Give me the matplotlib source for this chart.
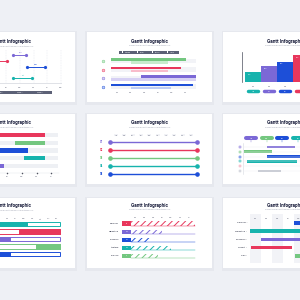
"""
Gantt infographic template preview: 3x3 grid of slide thumbnails.
"""
import matplotlib
matplotlib.use("Agg")
import matplotlib.pyplot as plt
from matplotlib.patches import Rectangle

plt.rcParams["font.family"] = ["Roboto", "DejaVu Sans"]
plt.rcParams["hatch.linewidth"] = 0.7

# ── Palette / layout ─────────────────────────────────────────────────────────
W, H     = 300, 300
BG       = "#eef0f5"
NAVY     = "#1f2340"
GREY_TXT = "#a2a6b5"
SLATE    = "#5c6176"
RED      = "#e8375c"
GREEN    = "#74c780"
BLUE     = "#1d4fd8"
PURPLE   = "#7b68d6"
TEAL     = "#17b3ad"
PINK     = "#f39ab0"
GREY     = "#c3c6cf"

CARD_X = [-50, 87, 223]
CARD_Y = [32, 114, 198]
CARD_W, CARD_H = 125, 70
TITLE    = "Gantt Infographic"
SUBTITLE = "Present your project timeline and milestones here"

# ── Data ─────────────────────────────────────────────────────────────────────
# card 1: range chart
c1_months = ["Jan", "Feb", "Mar", "Apr", "May", "Jun", "Jul", "Aug"]
c1_labels = ["Tune", "Plan", "Index", "Draft", "Test"]
c1_colors = [PURPLE, RED, BLUE, "#f5b942", TEAL]
c1_start  = [3.5, 1.0, 4.53, 0.4, 3.5]
c1_end    = [4.45, 3.07, 5.84, 2.2, 4.9]
c1_legend = ["Phase 1", "Phase 2", "Phase 3", "Phase 4"]

# card 2: stacked track rows
c2_months     = ["Jan", "Feb", "Mar", "Apr", "May", "Jun"]
c2_colors     = [GREEN, RED, PURPLE, BLUE]
c2_pale       = ["#c8ecce", "#f8bccb", "#d6d0f4", "#bfcdf5"]
c2_main_start = [-0.44, -0.44, 1.75, -0.44]
c2_main_end   = [5.04, 4.67, 5.77, 5.55]
c2_sub_start  = [1.02, 1.02, -0.44, 1.02]
c2_sub_end    = [3.72, 3.72, 5.77, 3.94]
c2_legend     = ["Planning", "Design", "Develop", "Launch"]

# card 3: step columns
c3_months = ["Jan", "Feb", "Mar", "Apr", "May"]
c3_values = [30, 48, 60, 80, 92]
c3_colors = [TEAL, PURPLE, BLUE, RED, GREEN]

# card 4: tracks
c4_months = ["Jan", "Feb", "Mar", "Apr", "May", "Jun", "Jul"]
c4_colors = [RED, GREEN, BLUE, TEAL, PURPLE]
c4_start  = [0.2, 3.54, 0.9, 4.15, 0.5]
c4_end    = [5.58, 5.58, 4.42, 5.58, 2.79]
c4_track  = [6.46, 6.46, 6.46, 6.46, 6.46]

# card 5: numbered lines
c5_months = ["Jan", "Feb", "Mar", "Apr", "May", "Jun", "Jul", "Aug", "Sep", "Oct"]
c5_ids    = ["01", "02", "03", "04", "05"]
c5_colors = [PURPLE, RED, GREEN, TEAL, BLUE]
c5_start  = [-0.72, -0.72, -0.72, -0.72, -0.72]
c5_end    = [9.72, 9.72, 9.72, 9.72, 9.72]

# card 6: pill header gantt
c6_months      = ["Jan", "Feb", "Mar", "Apr", "May"]
c6_month_color = [PURPLE, GREEN, BLUE, TEAL, RED]
c6_colors      = [PURPLE, GREEN, BLUE, TEAL, PINK, GREY]
c6_pale        = ["#ddd8f6", "#d3efd7", "#c9d5f7", "#c6ecea", "#fbdbe3", "#e4e6eb"]
c6_start       = [1.02, -0.45, 1.02, -0.25, 3.40, 0.45]
c6_end         = [2.80, 1.34, 3.76, 2.93, 4.60, 1.91]

# card 7: outlined progress bars
c7_months     = ["Jan", "Feb", "Mar", "Apr", "May", "Jun",
                 "Jul", "Aug", "Sep", "Oct", "Nov", "Dec"]
c7_colors     = [TEAL, RED, PURPLE, GREEN, BLUE]
c7_bar_start  = [-0.36, -0.36, -0.36, -0.36, -0.36]
c7_bar_end    = [11.36, 11.36, 11.36, 11.36, 11.36]
c7_fill_start = [-0.36, 6.41, -0.36, 8.46, -0.36]
c7_fill_end   = [7.38, 11.36, 5.32, 11.36, 5.32]

# card 8: hatched bars
c8_months = ["Jan", "Feb", "Mar", "Apr", "May", "Jun", "Jul"]
c8_tasks  = ["Planning", "Marketing", "Research", "Strategy", "Analysis"]
c8_ids    = ["01", "02", "03", "04", "05"]
c8_colors = [RED, PURPLE, BLUE, TEAL, GREEN]
c8_start  = [-0.44, -0.44, -0.44, -0.44, -0.44]
c8_end    = [6.67, 3.0, 1.67, 4.0, 2.56]

# card 9: shaded columns
c9_months = ["Jan", "Feb", "Mar", "Apr", "May", "Jun", "Jul", "Aug"]
c9_tasks  = ["Planning", "Marketing", "Research", "Project", "Plan"]
c9_colors = [BLUE, TEAL, PURPLE, RED, GREEN]
c9_start  = [3.55, -0.45, 0.55, -0.36, 3.64]
c9_end    = [6.0, 7.0, 5.2, 3.36, 6.0]
# ─────────────────────────────────────────────────────────────────────────────

fig = plt.figure(figsize=(3, 3), dpi=100)
fig.patch.set_facecolor(BG)


def px_axes(x0, y0, x1, y1, z=2):
    """Axes placed by pixel box (top-left origin)."""
    ax = fig.add_axes([x0 / W, 1 - y1 / H, (x1 - x0) / W, (y1 - y0) / H])
    ax.set_zorder(z)
    ax.set_xticks([]); ax.set_yticks([])
    for s in ax.spines.values():
        s.set_visible(False)
    ax.patch.set_alpha(0)
    return ax


def make_card(col, row, title_y):
    x0, y0 = CARD_X[col], CARD_Y[row]
    sh = px_axes(x0 - 1.5, y0 - 1, x0 + CARD_W + 1.5, y0 + CARD_H + 2.5, z=0)
    sh.patch.set_alpha(1); sh.set_facecolor("#e6e8ee")
    ax = px_axes(x0, y0, x0 + CARD_W, y0 + CARD_H, z=1)
    ax.patch.set_alpha(1); ax.set_facecolor("white")
    ax.set_xlim(0, CARD_W); ax.set_ylim(CARD_H, 0)
    ax.text(CARD_W / 2, title_y, TITLE, ha="center", va="center",
            fontsize=3.4, fontweight="bold", color=NAVY)
    ax.text(CARD_W / 2, title_y + 4.2, SUBTITLE, ha="center", va="center",
            fontsize=1.35, color=GREY_TXT)
    return ax


def small(ax, x, y, s, **kw):
    kw.setdefault("fontsize", 1.4)
    kw.setdefault("color", "#6d7183")
    kw.setdefault("ha", "center")
    kw.setdefault("va", "center")
    ax.text(x, y, s, clip_on=False, **kw)


def card1():
    card = make_card(0, 0, 9.8)
    ax = px_axes(-37, 50, 62, 84)
    ax.set_xlim(-0.146, 7.08); ax.set_ylim(5.04, -0.87)
    for m, lab in enumerate(c1_months):
        ax.plot([m, m], [-0.8, 4.9], color="#d9dce4", lw=0.3, ls=(0, (2, 2)))
        small(ax, m, 5.57, lab)
    ax.plot([-0.2, 7.1], [4.9, 4.9], color="#c8cbd5", lw=0.4)
    for i, (s, e, c, lab) in enumerate(zip(c1_start, c1_end, c1_colors, c1_labels)):
        ax.plot([s, e], [i, i], color=c, lw=0.7, marker="o", ms=1.3)
        small(ax, (s + e) / 2, i - 0.42, lab, color=c, fontsize=1.2)
    card.add_patch(Rectangle((20, 58.6), 82, 3.0, color=SLATE, lw=0))
    for k, lab in enumerate(c1_legend):
        card.text(30 + 20 * k, 60.1, lab, fontsize=1.1, color="white",
                  ha="center", va="center")


def card2():
    card = make_card(1, 0, 9.5)
    card.add_patch(Rectangle((32, 18.6), 60, 3.0, color=SLATE, lw=0))
    for k, lab in enumerate(c2_legend):
        card.add_patch(Rectangle((35 + 15 * k, 19.4), 1.4, 1.4, color="white", lw=0))
        card.text(37.5 + 15 * k, 20.1, lab, fontsize=1.1, color="white", va="center")
    ax = px_axes(98, 54, 200, 95)
    ax.set_xlim(-1.387, 6.058); ax.set_ylim(4.18, -0.647)
    for i, c in enumerate(c2_colors):
        ax.barh(i + 0.18, 5.77 + 0.44, left=-0.44, height=0.55, color="#f2f3f7", lw=0)
        ax.barh(i, c2_main_end[i] - c2_main_start[i], left=c2_main_start[i],
                height=0.25, color=c, lw=0)
        ax.barh(i + 0.36, c2_sub_end[i] - c2_sub_start[i], left=c2_sub_start[i],
                height=0.25, color=c2_pale[i], lw=0)
        ax.scatter([-1.02], [i + 0.18], s=4, facecolor=c2_pale[i], edgecolor=c,
                   lw=0.3, clip_on=False)
    for m, lab in enumerate(c2_months):
        small(ax, m, 3.85, lab)


def card3():
    make_card(2, 0, 9.5)
    ax = px_axes(242, 48, 345, 82)
    ax.set_xlim(-0.6875, 5.75); ax.set_ylim(0, 100)
    ax.bar(range(len(c3_values)), c3_values, width=1.0, color=c3_colors, lw=0)
    ax.plot([-0.6875, -0.6875], [0, 88], color="#4b4f5e", lw=0.5, clip_on=False)
    ax.plot([-0.6875, 5.75], [0, 0], color="#b9bcc6", lw=0.4)
    for i, (v, c, lab) in enumerate(zip(c3_values, c3_colors, c3_months)):
        small(ax, i - 0.3, v - 7, f"{v}%", color="white", ha="left")
        small(ax, i, -11.8, lab)
        ax.plot([i - 0.3, i + 0.3], [-26.5, -26.5], color=c, lw=2.5,
                solid_capstyle="round", clip_on=False)
        small(ax, i, -26.5, lab, color="white", fontsize=1.1)


def card4():
    make_card(0, 1, 9.0)
    ax = px_axes(-37, 131, 62, 180)
    ax.set_xlim(0, 6.73); ax.set_ylim(5.81, -0.52)
    for i, c in enumerate(c4_colors):
        ax.barh(i, c4_track[i], left=0, height=0.55, color="#eef0f4", lw=0)
        ax.barh(i, c4_end[i] - c4_start[i], left=c4_start[i], height=0.55,
                color=c, lw=0)
    ax.plot([0, 6.5], [4.9, 4.9], color="#e1e3ea", lw=0.3)
    for m, lab in enumerate(c4_months):
        ax.scatter([m], [4.9], s=1.2, color="#2b2e3c", lw=0)
        small(ax, m, 5.42, lab)


def card5():
    make_card(1, 1, 9.0)
    ax = px_axes(96, 131, 212, 180)
    ax.set_xlim(-2.4, 11.52); ax.set_ylim(4.75, -1.375)
    for m, lab in enumerate(c5_months):
        small(ax, m, -0.875, lab, fontsize=1.2,
              bbox=dict(facecolor="#f1f2f6", edgecolor="none", pad=0.4))
    for i, (s, e, c, lab) in enumerate(zip(c5_start, c5_end, c5_colors, c5_ids)):
        ax.plot([s, e], [i, i], color=c, lw=1.0, marker="o", ms=2.3)
        small(ax, -1.8, i, lab, color=c, fontsize=2.1, fontweight="bold")


def card6():
    make_card(2, 1, 9.0)
    ax = px_axes(236, 133, 345, 176)
    ax.set_xlim(-0.955, 5.99); ax.set_ylim(6.04, -2.92)
    for m, (lab, c) in enumerate(zip(c6_months, c6_month_color)):
        ax.plot([m - 0.32, m + 0.32], [-1.875, -1.875], color=c, lw=2.9,
                solid_capstyle="round")
        small(ax, m, -1.875, lab, color="white", fontsize=1.2)
        ax.plot([m, m], [-1.4, -1.1], color=c, lw=0.3)
    ax.plot([-0.48, -0.48], [-0.9, 5.6], color="#d5d8e0", lw=0.4)
    for i, c in enumerate(c6_colors):
        ax.plot([-0.48, 6], [i, i], color="#eceef3", lw=0.3)
        ax.barh(i, c6_end[i] - c6_start[i], left=c6_start[i], height=0.55,
                color=c, lw=0)
        ax.scatter([-0.70], [i], marker="s", s=4.5, facecolor=c6_pale[i],
                   edgecolor=c, lw=0.3, clip_on=False)


def card7():
    make_card(0, 2, 8.0)
    ax = px_axes(-40, 215, 63, 260)
    ax.set_xlim(-0.725, 11.73); ax.set_ylim(4.8, -1.2)
    for m, lab in enumerate(c7_months):
        small(ax, m, -0.67, lab)
    for i, c in enumerate(c7_colors):
        ax.barh(i, c7_bar_end[i] - c7_bar_start[i], left=c7_bar_start[i],
                height=0.6, facecolor="white", edgecolor=c, lw=0.7)
        ax.barh(i, c7_fill_end[i] - c7_fill_start[i], left=c7_fill_start[i],
                height=0.6, color=c, lw=0.7, edgecolor=c)


def card8():
    make_card(1, 2, 7.3)
    ax = px_axes(100, 212, 205, 262)
    ax.set_xlim(-3.89, 7.78); ax.set_ylim(4.75, -1.42)
    for m, lab in enumerate(c8_months):
        small(ax, m, -0.8, lab)
    for i, c in enumerate(c8_colors):
        ax.plot([c8_start[i], 6.67], [i + 0.25, i + 0.25], color=c, lw=0.35)
        ax.barh(i, c8_end[i] - c8_start[i], left=c8_start[i], height=0.5,
                facecolor="white", edgecolor=c, hatch="/////", lw=0)
        ax.barh(i, 1.0, left=-1.44, height=0.5, color=c, lw=0)
        small(ax, -0.94, i, c8_ids[i], color="white", fontsize=1.2)
        small(ax, -1.78, i, c8_tasks[i], ha="right", color="#33374a", fontsize=1.6)


def card9():
    make_card(2, 2, 7.3)
    ax = px_axes(225, 212, 345, 263)
    ax.set_xlim(-2.73, 8.18); ax.set_ylim(4.88, -1.34)
    for m, lab in enumerate(c9_months):
        if m % 2 == 0:
            ax.bar(m, 6.0, bottom=-1.1, width=1.0, color="#f2f3f7", lw=0)
        small(ax, m, -0.6, lab)
    for i, c in enumerate(c9_colors):
        ax.barh(i, c9_end[i] - c9_start[i], left=c9_start[i], height=0.45,
                color=c, lw=0)
        small(ax, -0.72, i, c9_tasks[i] + "  \u2022", ha="right",
              color="#33374a", fontsize=1.6)


card1(); card2(); card3()
card4(); card5(); card6()
card7(); card8(); card9()

fig.savefig("out.png", dpi=100, facecolor=BG)
